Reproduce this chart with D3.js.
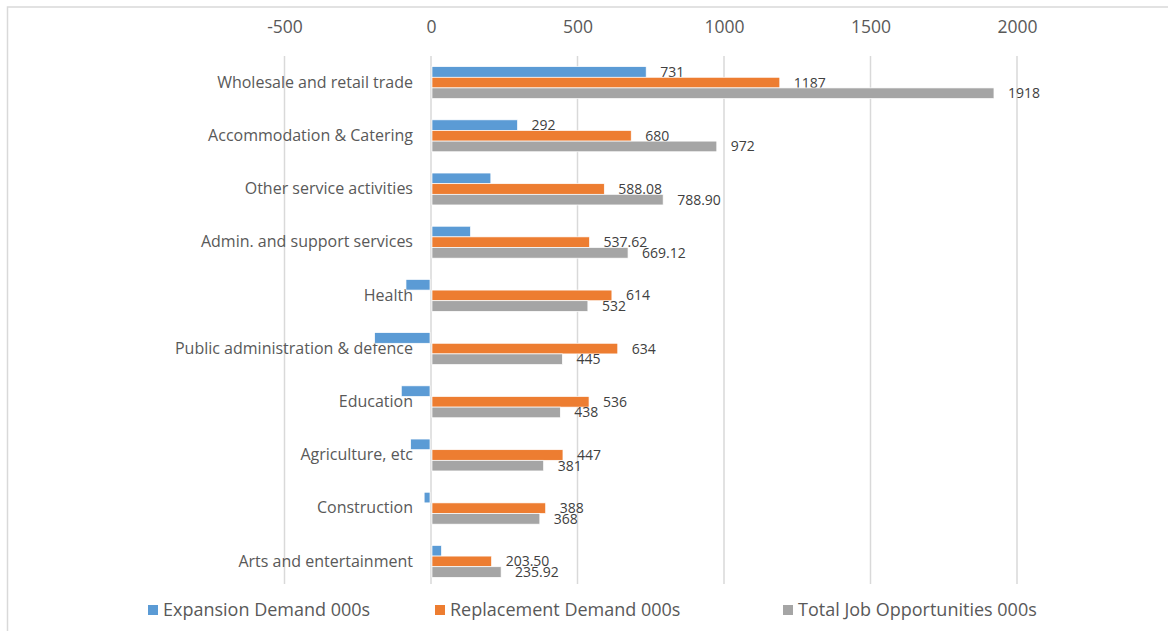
<!DOCTYPE html>
<html>
<head>
<meta charset="utf-8">
<script src="https://cdn.jsdelivr.net/npm/d3@7"></script>
<style>
  body { margin: 0; background: #fff; }
  svg { display: block; font-family: "Open Sans", sans-serif; }
</style>
</head>
<body>
<svg id="chart" width="1168" height="631"></svg>
<script>
(function() {
'use strict';

var categories = [
    'Wholesale and retail trade', 'Accommodation & Catering', 'Other service activities',
    'Admin. and support services', 'Health', 'Public administration & defence',
    'Education', 'Agriculture, etc', 'Construction', 'Arts and entertainment'
];
var seriesNames = ['Expansion Demand 000s', 'Replacement Demand 000s', 'Total Job Opportunities 000s'];
var colors = ['#5b9bd5', '#ed7d31', '#a5a5a5'];

var expansion = [731, 292, 200.82, 131.5, -82, -189, -98, -66, -20, 32.42];
var replacement = [1187, 680, 588.08, 537.62, 614, 634, 536, 447, 388, 203.50];
var total = [1918, 972, 788.90, 669.12, 532, 445, 438, 381, 368, 235.92];

// labels as printed in the chart (blanks were not shown)
var expansionLabels = ['731', '292', '', '', '', '', '', '', '', ''];
var replacementLabels = ['1187', '680', '588.08', '537.62', '614', '634', '536', '447', '388', '203.50'];
var totalLabels = ['1918', '972', '788.90', '669.12', '532', '445', '438', '381', '368', '235.92'];

var ticks = [-500, 0, 500, 1000, 1500, 2000];

var series = [
    { name: seriesNames[0], values: expansion, labels: expansionLabels },
    { name: seriesNames[1], values: replacement, labels: replacementLabels },
    { name: seriesNames[2], values: total, labels: totalLabels }
];

var svg = d3.select('#chart');

// outer frame (only top and left edges are visible)
svg.append('path')
    .attr('d', 'M7.5,631 L7.5,7 L1168,7')
    .attr('fill', 'none')
    .attr('stroke', '#d9d9d9')
    .attr('stroke-width', 1.5);

var x = d3.scaleLinear().domain([-500, 2000]).range([284.5, 1017]);
var y = d3.scaleBand().domain(categories).range([56, 588]).paddingInner(0.4).paddingOuter(0.2);
var ySub = d3.scaleBand().domain(d3.range(series.length)).range([0, y.bandwidth()]);

// gridlines
svg.append('g')
    .selectAll('line')
    .data(ticks)
    .enter()
    .append('line')
    .attr('x1', function(d) { return x(d); })
    .attr('x2', function(d) { return x(d); })
    .attr('y1', 56)
    .attr('y2', 584)
    .attr('stroke', '#d9d9d9')
    .attr('stroke-width', 1.5);

// top axis labels
var xAxis = d3.axisTop(x).tickValues(ticks).tickFormat(d3.format('d')).tickSize(0).tickPadding(0);
var axG = svg.append('g').attr('transform', 'translate(0,27)').call(xAxis);
axG.select('.domain').remove();
axG.selectAll('text')
    .attr('font-size', 17.5)
    .attr('fill', '#595959')
    .attr('font-family', '"Open Sans", sans-serif')
    .attr('dy', '0.35em')
    .text(function(d) { return String(d); });

// category labels
var yAxis = d3.axisLeft(y).tickSize(0).tickPadding(0);
var cG = svg.append('g').attr('transform', 'translate(413,0)').call(yAxis);
cG.select('.domain').remove();
cG.selectAll('text')
    .attr('font-size', 16)
    .attr('fill', '#595959')
    .attr('font-family', '"Open Sans", sans-serif')
    .attr('dy', '0.32em');

// bars and labels, series by series so later bars sit over earlier labels
series.forEach(function(s, si) {
    var g = svg.append('g');
    g.selectAll('rect')
        .data(s.values)
        .enter()
        .append('rect')
        .attr('x', function(d) { return Math.min(x(0), x(d)) + (d >= 0 ? 1 : -1); })
        .attr('y', function(d, i) { return y(categories[i]) + ySub(si); })
        .attr('width', function(d) { return Math.abs(x(d) - x(0)); })
        .attr('height', ySub.bandwidth())
        .attr('fill', colors[si])
        .attr('stroke', '#fff')
        .attr('stroke-width', 0.7);

    g.selectAll('text')
        .data(s.values)
        .enter()
        .append('text')
        .attr('x', function(d) { return x(d) + 15; })
        .attr('y', function(d, i) { return y(categories[i]) + ySub(si) + ySub.bandwidth() / 2; })
        .attr('dy', '0.35em')
        .attr('font-size', 14)
        .attr('fill', '#404040')
        .text(function(d, i) { return s.labels[i]; });
});

// legend
var legendX = [148, 435, 783];
var lg = svg.append('g')
    .selectAll('g')
    .data(series)
    .enter()
    .append('g')
    .attr('transform', function(d, i) { return 'translate(' + legendX[i] + ',610)'; });
lg.append('rect')
    .attr('x', 0)
    .attr('y', -5)
    .attr('width', 10)
    .attr('height', 10)
    .attr('fill', function(d, i) { return colors[i]; });
lg.append('text')
    .attr('x', 15)
    .attr('dy', '0.35em')
    .attr('font-size', 18)
    .attr('fill', '#595959')
    .text(function(d) { return d.name; });

})();
</script>
</body>
</html>
